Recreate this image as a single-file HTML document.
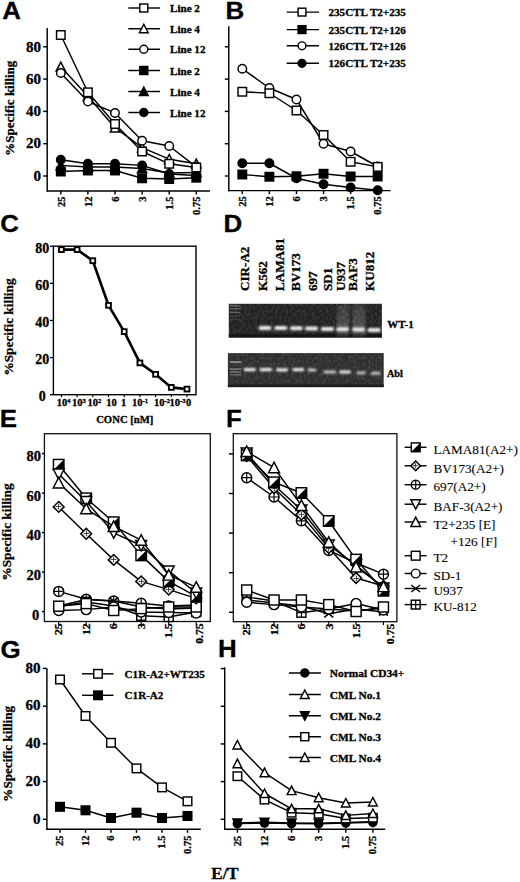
<!DOCTYPE html>
<html><head><meta charset="utf-8"><title>Figure</title>
<style>
html,body{margin:0;padding:0;background:#fff;}
body{width:520px;height:882px;overflow:hidden;}
svg{display:block;}
text{stroke:#000;stroke-width:0.3px;}
text[font-weight="normal"]{stroke-width:0.1px;}
</style></head>
<body>
<svg width="520" height="882" viewBox="0 0 520 882">
<rect width="520" height="882" fill="#fff"/>
<text x="0" y="0" font-family="'Liberation Sans', sans-serif" font-size="24.2" font-weight="bold" transform="translate(2.3,19.3) scale(1.07,1)">A</text>
<line x1="47.2" y1="28" x2="47.2" y2="191.6" stroke="#000" stroke-width="1.45"/>
<line x1="46.6" y1="191" x2="210" y2="191" stroke="#000" stroke-width="1.45"/>
<line x1="43.2" y1="176" x2="47.2" y2="176" stroke="#000" stroke-width="1.45"/>
<line x1="43.2" y1="143.7" x2="47.2" y2="143.7" stroke="#000" stroke-width="1.45"/>
<line x1="43.2" y1="111.4" x2="47.2" y2="111.4" stroke="#000" stroke-width="1.45"/>
<line x1="43.2" y1="79.1" x2="47.2" y2="79.1" stroke="#000" stroke-width="1.45"/>
<line x1="43.2" y1="46.8" x2="47.2" y2="46.8" stroke="#000" stroke-width="1.45"/>
<text x="41" y="180.7" font-family="'Liberation Serif', serif" font-size="15" font-weight="bold" text-anchor="end">0</text>
<text x="41" y="148.4" font-family="'Liberation Serif', serif" font-size="15" font-weight="bold" text-anchor="end">20</text>
<text x="41" y="116.1" font-family="'Liberation Serif', serif" font-size="15" font-weight="bold" text-anchor="end">40</text>
<text x="41" y="83.8" font-family="'Liberation Serif', serif" font-size="15" font-weight="bold" text-anchor="end">60</text>
<text x="41" y="51.5" font-family="'Liberation Serif', serif" font-size="15" font-weight="bold" text-anchor="end">80</text>
<line x1="60.8" y1="191" x2="60.8" y2="194.5" stroke="#000" stroke-width="1.45"/>
<line x1="87.9" y1="191" x2="87.9" y2="194.5" stroke="#000" stroke-width="1.45"/>
<line x1="115" y1="191" x2="115" y2="194.5" stroke="#000" stroke-width="1.45"/>
<line x1="142.1" y1="191" x2="142.1" y2="194.5" stroke="#000" stroke-width="1.45"/>
<line x1="169.2" y1="191" x2="169.2" y2="194.5" stroke="#000" stroke-width="1.45"/>
<line x1="196.3" y1="191" x2="196.3" y2="194.5" stroke="#000" stroke-width="1.45"/>
<text x="0" y="0" font-family="'Liberation Serif', serif" font-size="10.5" font-weight="bold" text-anchor="end" transform="translate(64.58,196.5) rotate(-90) scale(1.0,1)">25</text>
<text x="0" y="0" font-family="'Liberation Serif', serif" font-size="10.5" font-weight="bold" text-anchor="end" transform="translate(91.68,196.5) rotate(-90) scale(1.0,1)">12</text>
<text x="0" y="0" font-family="'Liberation Serif', serif" font-size="10.5" font-weight="bold" text-anchor="end" transform="translate(118.78,196.5) rotate(-90) scale(1.0,1)">6</text>
<text x="0" y="0" font-family="'Liberation Serif', serif" font-size="10.5" font-weight="bold" text-anchor="end" transform="translate(145.88,196.5) rotate(-90) scale(1.0,1)">3</text>
<text x="0" y="0" font-family="'Liberation Serif', serif" font-size="10.5" font-weight="bold" text-anchor="end" transform="translate(172.98,196.5) rotate(-90) scale(1.0,1)">1.5</text>
<text x="0" y="0" font-family="'Liberation Serif', serif" font-size="10.5" font-weight="bold" text-anchor="end" transform="translate(200.08,196.5) rotate(-90) scale(1.0,1)">0.75</text>
<text x="0" y="0" font-family="'Liberation Serif', serif" font-size="13" font-weight="bold" text-anchor="middle" transform="translate(13.8,108.2) rotate(-90)">%Specific killing</text>
<polyline points="60.8,171.5 87.9,170.5 115,170.5 142.1,178.3 169.2,179 196.3,177.7" fill="none" stroke="#000" stroke-width="1.45" stroke-linejoin="round"/>
<rect x="56.55" y="167.25" width="8.5" height="8.5" fill="#000" stroke="#000" stroke-width="1.45"/>
<rect x="83.65" y="166.25" width="8.5" height="8.5" fill="#000" stroke="#000" stroke-width="1.45"/>
<rect x="110.75" y="166.25" width="8.5" height="8.5" fill="#000" stroke="#000" stroke-width="1.45"/>
<rect x="137.85" y="174.05" width="8.5" height="8.5" fill="#000" stroke="#000" stroke-width="1.45"/>
<rect x="164.95" y="174.75" width="8.5" height="8.5" fill="#000" stroke="#000" stroke-width="1.45"/>
<rect x="192.05" y="173.45" width="8.5" height="8.5" fill="#000" stroke="#000" stroke-width="1.45"/>
<polyline points="60.8,165.4 87.9,167 115,167 142.1,168.5 169.2,173 196.3,172.5" fill="none" stroke="#000" stroke-width="1.45" stroke-linejoin="round"/>
<path d="M60.8 160.65L65.47 169.65L56.12 169.65Z" fill="#000" stroke="#000" stroke-width="1.45" stroke-linejoin="miter"/>
<path d="M87.9 162.25L92.58 171.25L83.23 171.25Z" fill="#000" stroke="#000" stroke-width="1.45" stroke-linejoin="miter"/>
<path d="M115 162.25L119.67 171.25L110.33 171.25Z" fill="#000" stroke="#000" stroke-width="1.45" stroke-linejoin="miter"/>
<path d="M142.1 163.75L146.78 172.75L137.43 172.75Z" fill="#000" stroke="#000" stroke-width="1.45" stroke-linejoin="miter"/>
<path d="M169.2 168.25L173.88 177.25L164.52 177.25Z" fill="#000" stroke="#000" stroke-width="1.45" stroke-linejoin="miter"/>
<path d="M196.3 167.75L200.98 176.75L191.62 176.75Z" fill="#000" stroke="#000" stroke-width="1.45" stroke-linejoin="miter"/>
<polyline points="60.8,159.8 87.9,163.8 115,163.8 142.1,165.4 169.2,174 196.3,175.5" fill="none" stroke="#000" stroke-width="1.45" stroke-linejoin="round"/>
<circle cx="60.8" cy="159.8" r="4.25" fill="#000" stroke="#000" stroke-width="1.45"/>
<circle cx="87.9" cy="163.8" r="4.25" fill="#000" stroke="#000" stroke-width="1.45"/>
<circle cx="115" cy="163.8" r="4.25" fill="#000" stroke="#000" stroke-width="1.45"/>
<circle cx="142.1" cy="165.4" r="4.25" fill="#000" stroke="#000" stroke-width="1.45"/>
<circle cx="169.2" cy="174" r="4.25" fill="#000" stroke="#000" stroke-width="1.45"/>
<circle cx="196.3" cy="175.5" r="4.25" fill="#000" stroke="#000" stroke-width="1.45"/>
<polyline points="60.8,66.8 87.9,96.3 115,127.7 142.1,147.7 169.2,159.2 196.3,163.8" fill="none" stroke="#000" stroke-width="1.45" stroke-linejoin="round"/>
<path d="M60.8 62.05L65.47 71.05L56.12 71.05Z" fill="#fff" stroke="#000" stroke-width="1.45" stroke-linejoin="miter"/>
<path d="M87.9 91.55L92.58 100.55L83.23 100.55Z" fill="#fff" stroke="#000" stroke-width="1.45" stroke-linejoin="miter"/>
<path d="M115 122.95L119.67 131.95L110.33 131.95Z" fill="#fff" stroke="#000" stroke-width="1.45" stroke-linejoin="miter"/>
<path d="M142.1 142.95L146.78 151.95L137.43 151.95Z" fill="#fff" stroke="#000" stroke-width="1.45" stroke-linejoin="miter"/>
<path d="M169.2 154.45L173.88 163.45L164.52 163.45Z" fill="#fff" stroke="#000" stroke-width="1.45" stroke-linejoin="miter"/>
<path d="M196.3 159.05L200.98 168.05L191.62 168.05Z" fill="#fff" stroke="#000" stroke-width="1.45" stroke-linejoin="miter"/>
<polyline points="60.8,72.9 87.9,101.5 115,112.9 142.1,140.8 169.2,146 196.3,166.8" fill="none" stroke="#000" stroke-width="1.45" stroke-linejoin="round"/>
<circle cx="60.8" cy="72.9" r="4.25" fill="#fff" stroke="#000" stroke-width="1.45"/>
<circle cx="87.9" cy="101.5" r="4.25" fill="#fff" stroke="#000" stroke-width="1.45"/>
<circle cx="115" cy="112.9" r="4.25" fill="#fff" stroke="#000" stroke-width="1.45"/>
<circle cx="142.1" cy="140.8" r="4.25" fill="#fff" stroke="#000" stroke-width="1.45"/>
<circle cx="169.2" cy="146" r="4.25" fill="#fff" stroke="#000" stroke-width="1.45"/>
<circle cx="196.3" cy="166.8" r="4.25" fill="#fff" stroke="#000" stroke-width="1.45"/>
<polyline points="60.8,35 87.9,92.3 115,124 142.1,151.5 169.2,163.8 196.3,167.5" fill="none" stroke="#000" stroke-width="1.45" stroke-linejoin="round"/>
<rect x="56.55" y="30.75" width="8.5" height="8.5" fill="#fff" stroke="#000" stroke-width="1.45"/>
<rect x="83.65" y="88.05" width="8.5" height="8.5" fill="#fff" stroke="#000" stroke-width="1.45"/>
<rect x="110.75" y="119.75" width="8.5" height="8.5" fill="#fff" stroke="#000" stroke-width="1.45"/>
<rect x="137.85" y="147.25" width="8.5" height="8.5" fill="#fff" stroke="#000" stroke-width="1.45"/>
<rect x="164.95" y="159.55" width="8.5" height="8.5" fill="#fff" stroke="#000" stroke-width="1.45"/>
<rect x="192.05" y="163.25" width="8.5" height="8.5" fill="#fff" stroke="#000" stroke-width="1.45"/>
<line x1="128.3" y1="8" x2="160" y2="8" stroke="#000" stroke-width="1.45"/>
<rect x="139.8" y="4" width="8" height="8" fill="#fff" stroke="#000" stroke-width="1.45"/>
<text x="170" y="12.07" font-family="'Liberation Serif', serif" font-size="11.1" font-weight="bold" text-anchor="start">Line 2</text>
<line x1="128.3" y1="28.75" x2="160" y2="28.75" stroke="#000" stroke-width="1.45"/>
<path d="M143.8 24.25L148.2 32.75L139.4 32.75Z" fill="#fff" stroke="#000" stroke-width="1.45" stroke-linejoin="miter"/>
<text x="170" y="32.82" font-family="'Liberation Serif', serif" font-size="11.1" font-weight="bold" text-anchor="start">Line 4</text>
<line x1="128.3" y1="49.25" x2="160" y2="49.25" stroke="#000" stroke-width="1.45"/>
<circle cx="143.8" cy="49.25" r="4" fill="#fff" stroke="#000" stroke-width="1.45"/>
<text x="170" y="53.32" font-family="'Liberation Serif', serif" font-size="11.1" font-weight="bold" text-anchor="start">Line 12</text>
<line x1="128.3" y1="70.5" x2="160" y2="70.5" stroke="#000" stroke-width="1.45"/>
<rect x="139.8" y="66.5" width="8" height="8" fill="#000" stroke="#000" stroke-width="1.45"/>
<text x="170" y="74.57" font-family="'Liberation Serif', serif" font-size="11.1" font-weight="bold" text-anchor="start">Line 2</text>
<line x1="128.3" y1="91.5" x2="160" y2="91.5" stroke="#000" stroke-width="1.45"/>
<path d="M143.8 87L148.2 95.5L139.4 95.5Z" fill="#000" stroke="#000" stroke-width="1.45" stroke-linejoin="miter"/>
<text x="170" y="95.57" font-family="'Liberation Serif', serif" font-size="11.1" font-weight="bold" text-anchor="start">Line 4</text>
<line x1="128.3" y1="112.5" x2="160" y2="112.5" stroke="#000" stroke-width="1.45"/>
<circle cx="143.8" cy="112.5" r="4" fill="#000" stroke="#000" stroke-width="1.45"/>
<text x="170" y="116.57" font-family="'Liberation Serif', serif" font-size="11.1" font-weight="bold" text-anchor="start">Line 12</text>
<text x="0" y="0" font-family="'Liberation Sans', sans-serif" font-size="24.2" font-weight="bold" transform="translate(225.5,18.5) scale(1.07,1)">B</text>
<line x1="228.8" y1="26.3" x2="228.8" y2="191.2" stroke="#000" stroke-width="1.45"/>
<line x1="228.2" y1="190.6" x2="390.6" y2="190.6" stroke="#000" stroke-width="1.45"/>
<line x1="224.8" y1="176" x2="228.8" y2="176" stroke="#000" stroke-width="1.45"/>
<line x1="224.8" y1="143.7" x2="228.8" y2="143.7" stroke="#000" stroke-width="1.45"/>
<line x1="224.8" y1="111.4" x2="228.8" y2="111.4" stroke="#000" stroke-width="1.45"/>
<line x1="224.8" y1="79.1" x2="228.8" y2="79.1" stroke="#000" stroke-width="1.45"/>
<line x1="224.8" y1="46.8" x2="228.8" y2="46.8" stroke="#000" stroke-width="1.45"/>
<line x1="242.3" y1="190.6" x2="242.3" y2="194.1" stroke="#000" stroke-width="1.45"/>
<line x1="269.38" y1="190.6" x2="269.38" y2="194.1" stroke="#000" stroke-width="1.45"/>
<line x1="296.46" y1="190.6" x2="296.46" y2="194.1" stroke="#000" stroke-width="1.45"/>
<line x1="323.54" y1="190.6" x2="323.54" y2="194.1" stroke="#000" stroke-width="1.45"/>
<line x1="350.62" y1="190.6" x2="350.62" y2="194.1" stroke="#000" stroke-width="1.45"/>
<line x1="377.7" y1="190.6" x2="377.7" y2="194.1" stroke="#000" stroke-width="1.45"/>
<text x="0" y="0" font-family="'Liberation Serif', serif" font-size="10.5" font-weight="bold" text-anchor="end" transform="translate(246.08,196.3) rotate(-90) scale(1.0,1)">25</text>
<text x="0" y="0" font-family="'Liberation Serif', serif" font-size="10.5" font-weight="bold" text-anchor="end" transform="translate(273.16,196.3) rotate(-90) scale(1.0,1)">12</text>
<text x="0" y="0" font-family="'Liberation Serif', serif" font-size="10.5" font-weight="bold" text-anchor="end" transform="translate(300.24,196.3) rotate(-90) scale(1.0,1)">6</text>
<text x="0" y="0" font-family="'Liberation Serif', serif" font-size="10.5" font-weight="bold" text-anchor="end" transform="translate(327.32,196.3) rotate(-90) scale(1.0,1)">3</text>
<text x="0" y="0" font-family="'Liberation Serif', serif" font-size="10.5" font-weight="bold" text-anchor="end" transform="translate(354.4,196.3) rotate(-90) scale(1.0,1)">1.5</text>
<text x="0" y="0" font-family="'Liberation Serif', serif" font-size="10.5" font-weight="bold" text-anchor="end" transform="translate(381.48,196.3) rotate(-90) scale(1.0,1)">0.75</text>
<polyline points="242.3,174.5 269.38,176.75 296.46,176.25 323.54,173.75 350.62,176.5 377.7,176.5" fill="none" stroke="#000" stroke-width="1.45" stroke-linejoin="round"/>
<rect x="238.05" y="170.25" width="8.5" height="8.5" fill="#000" stroke="#000" stroke-width="1.45"/>
<rect x="265.13" y="172.5" width="8.5" height="8.5" fill="#000" stroke="#000" stroke-width="1.45"/>
<rect x="292.21" y="172" width="8.5" height="8.5" fill="#000" stroke="#000" stroke-width="1.45"/>
<rect x="319.29" y="169.5" width="8.5" height="8.5" fill="#000" stroke="#000" stroke-width="1.45"/>
<rect x="346.37" y="172.25" width="8.5" height="8.5" fill="#000" stroke="#000" stroke-width="1.45"/>
<rect x="373.45" y="172.25" width="8.5" height="8.5" fill="#000" stroke="#000" stroke-width="1.45"/>
<polyline points="242.3,163.25 269.38,163.25 296.46,178.25 323.54,184.3 350.62,187.5 377.7,190.3" fill="none" stroke="#000" stroke-width="1.45" stroke-linejoin="round"/>
<circle cx="242.3" cy="163.25" r="4.25" fill="#000" stroke="#000" stroke-width="1.45"/>
<circle cx="269.38" cy="163.25" r="4.25" fill="#000" stroke="#000" stroke-width="1.45"/>
<circle cx="296.46" cy="178.25" r="4.25" fill="#000" stroke="#000" stroke-width="1.45"/>
<circle cx="323.54" cy="184.3" r="4.25" fill="#000" stroke="#000" stroke-width="1.45"/>
<circle cx="350.62" cy="187.5" r="4.25" fill="#000" stroke="#000" stroke-width="1.45"/>
<circle cx="377.7" cy="190.3" r="4.25" fill="#000" stroke="#000" stroke-width="1.45"/>
<polyline points="242.3,68.75 269.38,88 296.46,99.5 323.54,143.75 350.62,151.5 377.7,166.5" fill="none" stroke="#000" stroke-width="1.45" stroke-linejoin="round"/>
<circle cx="242.3" cy="68.75" r="4.25" fill="#fff" stroke="#000" stroke-width="1.45"/>
<circle cx="269.38" cy="88" r="4.25" fill="#fff" stroke="#000" stroke-width="1.45"/>
<circle cx="296.46" cy="99.5" r="4.25" fill="#fff" stroke="#000" stroke-width="1.45"/>
<circle cx="323.54" cy="143.75" r="4.25" fill="#fff" stroke="#000" stroke-width="1.45"/>
<circle cx="350.62" cy="151.5" r="4.25" fill="#fff" stroke="#000" stroke-width="1.45"/>
<circle cx="377.7" cy="166.5" r="4.25" fill="#fff" stroke="#000" stroke-width="1.45"/>
<polyline points="242.3,91.75 269.38,93.25 296.46,110.5 323.54,135 350.62,161.8 377.7,166.9" fill="none" stroke="#000" stroke-width="1.45" stroke-linejoin="round"/>
<rect x="238.05" y="87.5" width="8.5" height="8.5" fill="#fff" stroke="#000" stroke-width="1.45"/>
<rect x="265.13" y="89" width="8.5" height="8.5" fill="#fff" stroke="#000" stroke-width="1.45"/>
<rect x="292.21" y="106.25" width="8.5" height="8.5" fill="#fff" stroke="#000" stroke-width="1.45"/>
<rect x="319.29" y="130.75" width="8.5" height="8.5" fill="#fff" stroke="#000" stroke-width="1.45"/>
<rect x="346.37" y="157.55" width="8.5" height="8.5" fill="#fff" stroke="#000" stroke-width="1.45"/>
<rect x="373.45" y="162.65" width="8.5" height="8.5" fill="#fff" stroke="#000" stroke-width="1.45"/>
<line x1="286.7" y1="12.1" x2="319" y2="12.1" stroke="#000" stroke-width="1.45"/>
<rect x="298.1" y="8.2" width="7.8" height="7.8" fill="#fff" stroke="#000" stroke-width="1.45"/>
<text x="328.5" y="16.17" font-family="'Liberation Serif', serif" font-size="11.1" font-weight="bold" text-anchor="start">235CTL T2+235</text>
<line x1="286.7" y1="29.6" x2="319" y2="29.6" stroke="#000" stroke-width="1.45"/>
<rect x="298.1" y="25.7" width="7.8" height="7.8" fill="#000" stroke="#000" stroke-width="1.45"/>
<text x="328.5" y="33.67" font-family="'Liberation Serif', serif" font-size="11.1" font-weight="bold" text-anchor="start">235CTL T2+126</text>
<line x1="286.7" y1="45.8" x2="319" y2="45.8" stroke="#000" stroke-width="1.45"/>
<circle cx="302" cy="45.8" r="3.9" fill="#fff" stroke="#000" stroke-width="1.45"/>
<text x="328.5" y="49.87" font-family="'Liberation Serif', serif" font-size="11.1" font-weight="bold" text-anchor="start">126CTL T2+126</text>
<line x1="286.7" y1="63.3" x2="319" y2="63.3" stroke="#000" stroke-width="1.45"/>
<circle cx="302" cy="63.3" r="3.9" fill="#000" stroke="#000" stroke-width="1.45"/>
<text x="328.5" y="67.37" font-family="'Liberation Serif', serif" font-size="11.1" font-weight="bold" text-anchor="start">126CTL T2+235</text>
<text x="0" y="0" font-family="'Liberation Sans', sans-serif" font-size="24.2" font-weight="bold" transform="translate(0.3,231.5) scale(1.07,1)">C</text>
<rect x="53.4" y="246.2" width="142.6" height="148.5" fill="none" stroke="#000" stroke-width="1.4"/>
<line x1="50" y1="394.7" x2="53.4" y2="394.7" stroke="#000" stroke-width="1.3"/>
<line x1="50" y1="357.58" x2="53.4" y2="357.58" stroke="#000" stroke-width="1.3"/>
<line x1="50" y1="320.46" x2="53.4" y2="320.46" stroke="#000" stroke-width="1.3"/>
<line x1="50" y1="283.34" x2="53.4" y2="283.34" stroke="#000" stroke-width="1.3"/>
<line x1="50" y1="246.22" x2="53.4" y2="246.22" stroke="#000" stroke-width="1.3"/>
<text x="49.3" y="364.14" font-family="'Liberation Serif', serif" font-size="14" font-weight="bold" text-anchor="end">20</text>
<text x="49.3" y="327.02" font-family="'Liberation Serif', serif" font-size="14" font-weight="bold" text-anchor="end">40</text>
<text x="49.3" y="289.9" font-family="'Liberation Serif', serif" font-size="14" font-weight="bold" text-anchor="end">60</text>
<text x="49.3" y="252.78" font-family="'Liberation Serif', serif" font-size="14" font-weight="bold" text-anchor="end">80</text>
<text x="42.2" y="401.26" font-family="'Liberation Serif', serif" font-size="14" font-weight="bold" text-anchor="middle">0</text>
<text x="0" y="0" font-family="'Liberation Serif', serif" font-size="13.3" font-weight="bold" text-anchor="middle" transform="translate(13.49,327) rotate(-90)">%Specific killing</text>
<line x1="61.4" y1="394.7" x2="61.4" y2="397.2" stroke="#000" stroke-width="1.1"/>
<line x1="77.1" y1="394.7" x2="77.1" y2="397.2" stroke="#000" stroke-width="1.1"/>
<line x1="92.8" y1="394.7" x2="92.8" y2="397.2" stroke="#000" stroke-width="1.1"/>
<line x1="108.5" y1="394.7" x2="108.5" y2="397.2" stroke="#000" stroke-width="1.1"/>
<line x1="124.2" y1="394.7" x2="124.2" y2="397.2" stroke="#000" stroke-width="1.1"/>
<line x1="139.9" y1="394.7" x2="139.9" y2="397.2" stroke="#000" stroke-width="1.1"/>
<line x1="155.6" y1="394.7" x2="155.6" y2="397.2" stroke="#000" stroke-width="1.1"/>
<line x1="171.3" y1="394.7" x2="171.3" y2="397.2" stroke="#000" stroke-width="1.1"/>
<line x1="187" y1="394.7" x2="187" y2="397.2" stroke="#000" stroke-width="1.1"/>
<polyline points="61.4,249.6 77.1,249.6 92.8,260.7 108.5,305.3 124.2,331.6 139.9,362.9 155.6,374.3 171.3,387.4 187,389.1" fill="none" stroke="#000" stroke-width="2.6" stroke-linejoin="round"/>
<rect x="59" y="247.2" width="4.8" height="4.8" fill="#fff" stroke="#000" stroke-width="1.9"/>
<rect x="74.7" y="247.2" width="4.8" height="4.8" fill="#fff" stroke="#000" stroke-width="1.9"/>
<rect x="90.4" y="258.3" width="4.8" height="4.8" fill="#fff" stroke="#000" stroke-width="1.9"/>
<rect x="106.1" y="302.9" width="4.8" height="4.8" fill="#fff" stroke="#000" stroke-width="1.9"/>
<rect x="121.8" y="329.2" width="4.8" height="4.8" fill="#fff" stroke="#000" stroke-width="1.9"/>
<rect x="137.5" y="360.5" width="4.8" height="4.8" fill="#fff" stroke="#000" stroke-width="1.9"/>
<rect x="153.2" y="371.9" width="4.8" height="4.8" fill="#fff" stroke="#000" stroke-width="1.9"/>
<rect x="168.9" y="385" width="4.8" height="4.8" fill="#fff" stroke="#000" stroke-width="1.9"/>
<rect x="184.6" y="386.7" width="4.8" height="4.8" fill="#fff" stroke="#000" stroke-width="1.9"/>
<text x="63.5" y="406.3" font-family="'Liberation Serif', serif" font-size="10.5" font-weight="bold" text-anchor="middle">10<tspan font-size="6.5" dy="-3.6">4</tspan></text>
<text x="78.9" y="406.3" font-family="'Liberation Serif', serif" font-size="10.5" font-weight="bold" text-anchor="middle">10<tspan font-size="6.5" dy="-3.6">3</tspan></text>
<text x="94.3" y="406.3" font-family="'Liberation Serif', serif" font-size="10.5" font-weight="bold" text-anchor="middle">10<tspan font-size="6.5" dy="-3.6">2</tspan></text>
<text x="111.5" y="406.3" font-family="'Liberation Serif', serif" font-size="10.5" font-weight="bold" text-anchor="middle">10</text>
<text x="123.5" y="406.3" font-family="'Liberation Serif', serif" font-size="10.5" font-weight="bold" text-anchor="middle">1</text>
<text x="140" y="406.3" font-family="'Liberation Serif', serif" font-size="10.5" font-weight="bold" text-anchor="middle">10<tspan font-size="6.5" dy="-3.6">-1</tspan></text>
<text x="162" y="406.3" font-family="'Liberation Serif', serif" font-size="10.5" font-weight="bold" text-anchor="middle">10<tspan font-size="6.5" dy="-3.6">-2</tspan></text>
<text x="177.5" y="406.3" font-family="'Liberation Serif', serif" font-size="10.5" font-weight="bold" text-anchor="middle">10<tspan font-size="6.5" dy="-3.6">-3</tspan></text>
<text x="188.5" y="406.3" font-family="'Liberation Serif', serif" font-size="10.5" font-weight="bold" text-anchor="middle">0</text>
<text x="124.8" y="423" font-family="'Liberation Serif', serif" font-size="10.7" font-weight="bold" text-anchor="middle">CONC [nM]</text>
<text x="0" y="0" font-family="'Liberation Sans', sans-serif" font-size="24.2" font-weight="bold" transform="translate(223.5,231.8) scale(1.07,1)">D</text>
<text x="0" y="0" font-family="'Liberation Serif', serif" font-size="12.5" font-weight="bold" transform="translate(249.4,291.0) rotate(-90) scale(1.05,1)">CIR-A2</text>
<text x="0" y="0" font-family="'Liberation Serif', serif" font-size="12.5" font-weight="bold" transform="translate(267.4,291.0) rotate(-90) scale(1.05,1)">K562</text>
<text x="0" y="0" font-family="'Liberation Serif', serif" font-size="12.5" font-weight="bold" transform="translate(283.5,291.0) rotate(-90) scale(1.05,1)">LAMA81</text>
<text x="0" y="0" font-family="'Liberation Serif', serif" font-size="12.5" font-weight="bold" transform="translate(299.7,291.0) rotate(-90) scale(1.05,1)">BV173</text>
<text x="0" y="0" font-family="'Liberation Serif', serif" font-size="12.5" font-weight="bold" transform="translate(316.6,291.0) rotate(-90) scale(1.05,1)">697</text>
<text x="0" y="0" font-family="'Liberation Serif', serif" font-size="12.5" font-weight="bold" transform="translate(331.8,291.0) rotate(-90) scale(1.05,1)">SD1</text>
<text x="0" y="0" font-family="'Liberation Serif', serif" font-size="12.5" font-weight="bold" transform="translate(344.7,291.0) rotate(-90) scale(1.05,1)">U937</text>
<text x="0" y="0" font-family="'Liberation Serif', serif" font-size="12.5" font-weight="bold" transform="translate(356.8,291.0) rotate(-90) scale(1.05,1)">BAF3</text>
<text x="0" y="0" font-family="'Liberation Serif', serif" font-size="12.5" font-weight="bold" transform="translate(374.1,291.0) rotate(-90) scale(1.05,1)">KU812</text>
<defs><filter id="noise" x="0" y="0" width="100%" height="100%"><feTurbulence type="fractalNoise" baseFrequency="0.45 0.3" numOctaves="2" seed="7" result="t"/><feColorMatrix type="matrix" values="0 0 0 0 0.45  0 0 0 0 0.45  0 0 0 0 0.45  0 0 0 0.7 -0.25"/></filter><filter id="bl" x="-30%" y="-80%" width="160%" height="260%"><feGaussianBlur stdDeviation="0.8"/></filter><filter id="bl2" x="-10%" y="-10%" width="120%" height="120%"><feGaussianBlur stdDeviation="1.2"/></filter><linearGradient id="sm" x1="0" y1="0" x2="0" y2="1"><stop offset="0" stop-color="#fff" stop-opacity="0.10"/><stop offset="0.7" stop-color="#fff" stop-opacity="0.2"/><stop offset="1" stop-color="#fff" stop-opacity="0.14"/></linearGradient></defs>
<rect x="228.8" y="303.8" width="153.1" height="33.7" fill="#202020"/>
<rect x="228.8" y="303.8" width="153.1" height="33.7" fill="#000" filter="url(#noise)" opacity="0.6"/>
<rect x="228.8" y="334.2" width="153.1" height="3.3" fill="#151515"/>
<rect x="337" y="304.5" width="12" height="32" fill="url(#sm)" filter="url(#bl2)"/>
<rect x="352.5" y="304.5" width="13" height="32" fill="url(#sm)" filter="url(#bl2)"/>
<rect x="229.8" y="305.3" width="10.5" height="1.2" fill="#b0b0b0" opacity="0.55"/>
<rect x="229.8" y="308.1" width="10.5" height="1.2" fill="#b0b0b0" opacity="0.5"/>
<rect x="229.8" y="311.8" width="10.5" height="1.2" fill="#b0b0b0" opacity="0.45"/>
<rect x="229.8" y="315.5" width="10.5" height="1.2" fill="#b0b0b0" opacity="0.2"/>
<rect x="229.8" y="319" width="10.5" height="1.2" fill="#b0b0b0" opacity="0.15"/>
<rect x="258.8" y="326" width="12.5" height="4.0" rx="1.6" fill="#ececec" filter="url(#bl)"/>
<rect x="274.4" y="326" width="12.7" height="4.0" rx="1.6" fill="#ececec" filter="url(#bl)"/>
<rect x="290.1" y="326.2" width="12.5" height="4.0" rx="1.6" fill="#ececec" filter="url(#bl)"/>
<rect x="305" y="326.5" width="13" height="4.0" rx="1.6" fill="#ececec" filter="url(#bl)"/>
<rect x="321" y="327" width="12.8" height="4.0" rx="1.6" fill="#ececec" filter="url(#bl)"/>
<rect x="336.3" y="327.2" width="12.5" height="4.0" rx="1.6" fill="#ececec" filter="url(#bl)"/>
<rect x="352.3" y="327.6" width="12.5" height="4.0" rx="1.6" fill="#ececec" filter="url(#bl)"/>
<rect x="367.7" y="328" width="12.9" height="4.0" rx="1.6" fill="#ececec" filter="url(#bl)"/>
<rect x="227.9" y="353.1" width="155.8" height="34" fill="#2c2c2c"/>
<rect x="227.9" y="353.1" width="155.8" height="34" fill="#000" filter="url(#noise)" opacity="0.6"/>
<rect x="227.9" y="384.5" width="155.8" height="2.6" fill="#1c1c1c"/>
<rect x="229.8" y="361.4" width="11.5" height="1.3" fill="#bdbdbd" opacity="0.9"/>
<rect x="229.8" y="368.4" width="11.5" height="1.3" fill="#bdbdbd" opacity="0.65"/>
<rect x="229.8" y="371.4" width="11.5" height="1.3" fill="#bdbdbd" opacity="0.55"/>
<rect x="229.8" y="374.2" width="11.5" height="1.3" fill="#bdbdbd" opacity="0.45"/>
<rect x="243.7" y="368" width="12.1" height="3.2" rx="1.4" fill="#eaeaea" opacity="1" filter="url(#bl)"/>
<rect x="259.6" y="368" width="12.5" height="3.2" rx="1.4" fill="#eaeaea" opacity="1" filter="url(#bl)"/>
<rect x="276" y="368.2" width="12" height="3.2" rx="1.4" fill="#eaeaea" opacity="1" filter="url(#bl)"/>
<rect x="292.3" y="368" width="11.9" height="3.2" rx="1.4" fill="#eaeaea" opacity="1" filter="url(#bl)"/>
<rect x="307.7" y="368.4" width="8.6" height="3.2" rx="1.4" fill="#eaeaea" opacity="0.85" filter="url(#bl)"/>
<rect x="323.5" y="370.4" width="12.7" height="3.2" rx="1.4" fill="#eaeaea" opacity="0.8" filter="url(#bl)"/>
<rect x="339.3" y="370.4" width="11.7" height="3.2" rx="1.4" fill="#eaeaea" opacity="1" filter="url(#bl)"/>
<rect x="356.3" y="371.2" width="9.5" height="3.2" rx="1.4" fill="#eaeaea" opacity="0.7" filter="url(#bl)"/>
<rect x="371" y="371.7" width="9.6" height="3.2" rx="1.4" fill="#eaeaea" opacity="0.75" filter="url(#bl)"/>
<text x="0" y="0" font-family="'Liberation Serif', serif" font-size="10.3" font-weight="bold" transform="translate(387.3,328.3) scale(1.06,1)">WT-1</text>
<text x="0" y="0" font-family="'Liberation Serif', serif" font-size="10.3" font-weight="bold" transform="translate(386.9,376.7) scale(1.0,1)">Abl</text>
<text x="0" y="0" font-family="'Liberation Sans', sans-serif" font-size="24.2" font-weight="bold" transform="translate(-0.3,427.4) scale(1.07,1)">E</text>
<rect x="44.4" y="433.7" width="165.9" height="187.8" fill="none" stroke="#111" stroke-width="1.3"/>
<line x1="42" y1="611.6" x2="44.4" y2="611.6" stroke="#000" stroke-width="1.45"/>
<line x1="42" y1="572.1" x2="44.4" y2="572.1" stroke="#000" stroke-width="1.45"/>
<line x1="42" y1="532.6" x2="44.4" y2="532.6" stroke="#000" stroke-width="1.45"/>
<line x1="42" y1="493.1" x2="44.4" y2="493.1" stroke="#000" stroke-width="1.45"/>
<line x1="42" y1="453.6" x2="44.4" y2="453.6" stroke="#000" stroke-width="1.45"/>
<text x="41" y="579.83" font-family="'Liberation Serif', serif" font-size="14.5" font-weight="bold" text-anchor="end">20</text>
<text x="41" y="540.33" font-family="'Liberation Serif', serif" font-size="14.5" font-weight="bold" text-anchor="end">40</text>
<text x="41" y="500.83" font-family="'Liberation Serif', serif" font-size="14.5" font-weight="bold" text-anchor="end">60</text>
<text x="41" y="461.33" font-family="'Liberation Serif', serif" font-size="14.5" font-weight="bold" text-anchor="end">80</text>
<text x="39.2" y="619.73" font-family="'Liberation Serif', serif" font-size="14.5" font-weight="bold" text-anchor="end">0</text>
<text x="0" y="0" font-family="'Liberation Serif', serif" font-size="13.3" font-weight="bold" text-anchor="middle" transform="translate(11.19,532) rotate(-90)">%Specific killing</text>
<line x1="58.7" y1="621.5" x2="58.7" y2="625" stroke="#000" stroke-width="1.1"/>
<line x1="86.2" y1="621.5" x2="86.2" y2="625" stroke="#000" stroke-width="1.1"/>
<line x1="113.7" y1="621.5" x2="113.7" y2="625" stroke="#000" stroke-width="1.1"/>
<line x1="141.2" y1="621.5" x2="141.2" y2="625" stroke="#000" stroke-width="1.1"/>
<line x1="168.7" y1="621.5" x2="168.7" y2="625" stroke="#000" stroke-width="1.1"/>
<line x1="196.2" y1="621.5" x2="196.2" y2="625" stroke="#000" stroke-width="1.1"/>
<text x="0" y="0" font-family="'Liberation Serif', serif" font-size="10.5" font-weight="bold" text-anchor="end" transform="translate(62.48,623.3) rotate(-90) scale(1.12,1)">25</text>
<text x="0" y="0" font-family="'Liberation Serif', serif" font-size="10.5" font-weight="bold" text-anchor="end" transform="translate(89.98,623.3) rotate(-90) scale(1.12,1)">12</text>
<text x="0" y="0" font-family="'Liberation Serif', serif" font-size="10.5" font-weight="bold" text-anchor="end" transform="translate(117.48,623.3) rotate(-90) scale(1.12,1)">6</text>
<text x="0" y="0" font-family="'Liberation Serif', serif" font-size="10.5" font-weight="bold" text-anchor="end" transform="translate(144.98,623.3) rotate(-90) scale(1.12,1)">3</text>
<text x="0" y="0" font-family="'Liberation Serif', serif" font-size="10.5" font-weight="bold" text-anchor="end" transform="translate(172.48,623.3) rotate(-90) scale(1.12,1)">1.5</text>
<text x="0" y="0" font-family="'Liberation Serif', serif" font-size="10.5" font-weight="bold" text-anchor="end" transform="translate(202.98,623.3) rotate(-90) scale(1.12,1)">0.75</text>
<polyline points="58.7,591.4 86.2,599.2 113.7,601 141.2,603.3 168.7,606 196.2,605" fill="none" stroke="#000" stroke-width="1.45" stroke-linejoin="round"/>
<circle cx="58.7" cy="591.4" r="5" fill="#fff" stroke="#000" stroke-width="1.45"/><path d="M58.7 586.4V596.4M53.7 591.4H63.7" stroke="#000" stroke-width="1.16"/>
<circle cx="86.2" cy="599.2" r="5" fill="#fff" stroke="#000" stroke-width="1.45"/><path d="M86.2 594.2V604.2M81.2 599.2H91.2" stroke="#000" stroke-width="1.16"/>
<circle cx="113.7" cy="601" r="5" fill="#fff" stroke="#000" stroke-width="1.45"/><path d="M113.7 596V606M108.7 601H118.7" stroke="#000" stroke-width="1.16"/>
<circle cx="141.2" cy="603.3" r="5" fill="#fff" stroke="#000" stroke-width="1.45"/><path d="M141.2 598.3V608.3M136.2 603.3H146.2" stroke="#000" stroke-width="1.16"/>
<circle cx="168.7" cy="606" r="5" fill="#fff" stroke="#000" stroke-width="1.45"/><path d="M168.7 601V611M163.7 606H173.7" stroke="#000" stroke-width="1.16"/>
<circle cx="196.2" cy="605" r="5" fill="#fff" stroke="#000" stroke-width="1.45"/><path d="M196.2 600V610M191.2 605H201.2" stroke="#000" stroke-width="1.16"/>
<polyline points="58.7,606 86.2,599.5 113.7,601 141.2,607 168.7,609 196.2,608" fill="none" stroke="#000" stroke-width="1.45" stroke-linejoin="round"/>
<path d="M54.2 602.4L63.2 609.6M54.2 609.6L63.2 602.4" stroke="#000" stroke-width="1.45"/>
<path d="M81.7 595.9L90.7 603.1M81.7 603.1L90.7 595.9" stroke="#000" stroke-width="1.45"/>
<path d="M109.2 597.4L118.2 604.6M109.2 604.6L118.2 597.4" stroke="#000" stroke-width="1.45"/>
<path d="M136.7 603.4L145.7 610.6M136.7 610.6L145.7 603.4" stroke="#000" stroke-width="1.45"/>
<path d="M164.2 605.4L173.2 612.6M164.2 612.6L173.2 605.4" stroke="#000" stroke-width="1.45"/>
<path d="M191.7 604.4L200.7 611.6M191.7 611.6L200.7 604.4" stroke="#000" stroke-width="1.45"/>
<polyline points="58.7,606.5 86.2,602 113.7,606 141.2,615.7 168.7,617 196.2,612" fill="none" stroke="#000" stroke-width="1.45" stroke-linejoin="round"/>
<rect x="54.2" y="602" width="9" height="9" fill="#fff" stroke="#000" stroke-width="1.45"/><path d="M58.7 602V611M54.2 606.5H63.2" stroke="#000" stroke-width="1.16"/>
<rect x="81.7" y="597.5" width="9" height="9" fill="#fff" stroke="#000" stroke-width="1.45"/><path d="M86.2 597.5V606.5M81.7 602H90.7" stroke="#000" stroke-width="1.16"/>
<rect x="109.2" y="601.5" width="9" height="9" fill="#fff" stroke="#000" stroke-width="1.45"/><path d="M113.7 601.5V610.5M109.2 606H118.2" stroke="#000" stroke-width="1.16"/>
<rect x="136.7" y="611.2" width="9" height="9" fill="#fff" stroke="#000" stroke-width="1.45"/><path d="M141.2 611.2V620.2M136.7 615.7H145.7" stroke="#000" stroke-width="1.16"/>
<rect x="164.2" y="612.5" width="9" height="9" fill="#fff" stroke="#000" stroke-width="1.45"/><path d="M168.7 612.5V621.5M164.2 617H173.2" stroke="#000" stroke-width="1.16"/>
<rect x="191.7" y="607.5" width="9" height="9" fill="#fff" stroke="#000" stroke-width="1.45"/><path d="M196.2 607.5V616.5M191.7 612H200.7" stroke="#000" stroke-width="1.16"/>
<polyline points="58.7,610.5 86.2,609.6 113.7,607 141.2,612 168.7,612.5 196.2,613" fill="none" stroke="#000" stroke-width="1.45" stroke-linejoin="round"/>
<circle cx="58.7" cy="610.5" r="5" fill="#fff" stroke="#000" stroke-width="1.45"/>
<circle cx="86.2" cy="609.6" r="5" fill="#fff" stroke="#000" stroke-width="1.45"/>
<circle cx="113.7" cy="607" r="5" fill="#fff" stroke="#000" stroke-width="1.45"/>
<circle cx="141.2" cy="612" r="5" fill="#fff" stroke="#000" stroke-width="1.45"/>
<circle cx="168.7" cy="612.5" r="5" fill="#fff" stroke="#000" stroke-width="1.45"/>
<circle cx="196.2" cy="613" r="5" fill="#fff" stroke="#000" stroke-width="1.45"/>
<polyline points="58.7,606.2 86.2,603.6 113.7,610.5 141.2,608.6 168.7,607 196.2,607" fill="none" stroke="#000" stroke-width="1.45" stroke-linejoin="round"/>
<rect x="53.7" y="601.2" width="10" height="10" fill="#fff" stroke="#000" stroke-width="1.45"/>
<rect x="81.2" y="598.6" width="10" height="10" fill="#fff" stroke="#000" stroke-width="1.45"/>
<rect x="108.7" y="605.5" width="10" height="10" fill="#fff" stroke="#000" stroke-width="1.45"/>
<rect x="136.2" y="603.6" width="10" height="10" fill="#fff" stroke="#000" stroke-width="1.45"/>
<rect x="163.7" y="602" width="10" height="10" fill="#fff" stroke="#000" stroke-width="1.45"/>
<rect x="191.2" y="602" width="10" height="10" fill="#fff" stroke="#000" stroke-width="1.45"/>
<polyline points="58.7,506.9 86.2,533.8 113.7,559.9 141.2,581.4 168.7,589.6 196.2,598.4" fill="none" stroke="#000" stroke-width="1.45" stroke-linejoin="round"/>
<path d="M58.7 501.5L64.1 506.9L58.7 512.3L53.3 506.9Z" fill="#fff" stroke="#000" stroke-width="1.5"/><circle cx="58.5" cy="506.5" r="2.81" fill="none" stroke="#999" stroke-width="0.4"/><path d="M58.5 503.8V509.2M55.8 506.5H61.2" stroke="#222" stroke-width="0.8"/>
<path d="M86.2 528.4L91.6 533.8L86.2 539.2L80.8 533.8Z" fill="#fff" stroke="#000" stroke-width="1.5"/><circle cx="86.5" cy="533.5" r="2.81" fill="none" stroke="#999" stroke-width="0.4"/><path d="M86.5 530.8V536.2M83.8 533.5H89.2" stroke="#222" stroke-width="0.8"/>
<path d="M113.7 554.5L119.1 559.9L113.7 565.3L108.3 559.9Z" fill="#fff" stroke="#000" stroke-width="1.5"/><circle cx="113.5" cy="559.5" r="2.81" fill="none" stroke="#999" stroke-width="0.4"/><path d="M113.5 556.8V562.2M110.8 559.5H116.2" stroke="#222" stroke-width="0.8"/>
<path d="M141.2 576L146.6 581.4L141.2 586.8L135.8 581.4Z" fill="#fff" stroke="#000" stroke-width="1.5"/><circle cx="141.5" cy="581.5" r="2.81" fill="none" stroke="#999" stroke-width="0.4"/><path d="M141.5 578.8V584.2M138.8 581.5H144.2" stroke="#222" stroke-width="0.8"/>
<path d="M168.7 584.2L174.1 589.6L168.7 595L163.3 589.6Z" fill="#fff" stroke="#000" stroke-width="1.5"/><circle cx="168.5" cy="589.5" r="2.81" fill="none" stroke="#999" stroke-width="0.4"/><path d="M168.5 586.8V592.2M165.8 589.5H171.2" stroke="#222" stroke-width="0.8"/>
<path d="M196.2 593L201.6 598.4L196.2 603.8L190.8 598.4Z" fill="#fff" stroke="#000" stroke-width="1.5"/><circle cx="196.5" cy="598.5" r="2.81" fill="none" stroke="#999" stroke-width="0.4"/><path d="M196.5 595.8V601.2M193.8 598.5H199.2" stroke="#222" stroke-width="0.8"/>
<polyline points="58.7,464.7 86.2,498.3 113.7,522.2 141.2,555.4 168.7,581.4 196.2,596.3" fill="none" stroke="#000" stroke-width="1.45" stroke-linejoin="round"/>
<rect x="53.45" y="459.45" width="10.5" height="10.5" fill="#fff" stroke="#000" stroke-width="1.45"/><path d="M63.95 459.45L63.95 469.95L53.45 469.95Z" fill="#000"/>
<rect x="80.95" y="493.05" width="10.5" height="10.5" fill="#fff" stroke="#000" stroke-width="1.45"/><path d="M91.45 493.05L91.45 503.55L80.95 503.55Z" fill="#000"/>
<rect x="108.45" y="516.95" width="10.5" height="10.5" fill="#fff" stroke="#000" stroke-width="1.45"/><path d="M118.95 516.95L118.95 527.45L108.45 527.45Z" fill="#000"/>
<rect x="135.95" y="550.15" width="10.5" height="10.5" fill="#fff" stroke="#000" stroke-width="1.45"/><path d="M146.45 550.15L146.45 560.65L135.95 560.65Z" fill="#000"/>
<rect x="163.45" y="576.15" width="10.5" height="10.5" fill="#fff" stroke="#000" stroke-width="1.45"/><path d="M173.95 576.15L173.95 586.65L163.45 586.65Z" fill="#000"/>
<rect x="190.95" y="591.05" width="10.5" height="10.5" fill="#fff" stroke="#000" stroke-width="1.45"/><path d="M201.45 591.05L201.45 601.55L190.95 601.55Z" fill="#000"/>
<polyline points="58.7,474 86.2,501.5 113.7,532.8 141.2,545.5 168.7,570.9 196.2,593" fill="none" stroke="#000" stroke-width="1.45" stroke-linejoin="round"/>
<path d="M58.7 479.5L64.2 469L53.2 469Z" fill="#fff" stroke="#000" stroke-width="1.45"/>
<path d="M86.2 507L91.7 496.5L80.7 496.5Z" fill="#fff" stroke="#000" stroke-width="1.45"/>
<path d="M113.7 538.3L119.2 527.8L108.2 527.8Z" fill="#fff" stroke="#000" stroke-width="1.45"/>
<path d="M141.2 551L146.7 540.5L135.7 540.5Z" fill="#fff" stroke="#000" stroke-width="1.45"/>
<path d="M168.7 576.4L174.2 565.9L163.2 565.9Z" fill="#fff" stroke="#000" stroke-width="1.45"/>
<path d="M196.2 598.5L201.7 588L190.7 588Z" fill="#fff" stroke="#000" stroke-width="1.45"/>
<polyline points="58.7,482.9 86.2,508.8 113.7,526.4 141.2,540.2 168.7,575.1 196.2,587.2" fill="none" stroke="#000" stroke-width="1.45" stroke-linejoin="round"/>
<path d="M58.7 477.4L64.2 487.9L53.2 487.9Z" fill="#fff" stroke="#000" stroke-width="1.45" stroke-linejoin="miter"/>
<path d="M86.2 503.3L91.7 513.8L80.7 513.8Z" fill="#fff" stroke="#000" stroke-width="1.45" stroke-linejoin="miter"/>
<path d="M113.7 520.9L119.2 531.4L108.2 531.4Z" fill="#fff" stroke="#000" stroke-width="1.45" stroke-linejoin="miter"/>
<path d="M141.2 534.7L146.7 545.2L135.7 545.2Z" fill="#fff" stroke="#000" stroke-width="1.45" stroke-linejoin="miter"/>
<path d="M168.7 569.6L174.2 580.1L163.2 580.1Z" fill="#fff" stroke="#000" stroke-width="1.45" stroke-linejoin="miter"/>
<path d="M196.2 581.7L201.7 592.2L190.7 592.2Z" fill="#fff" stroke="#000" stroke-width="1.45" stroke-linejoin="miter"/>
<text x="0" y="0" font-family="'Liberation Sans', sans-serif" font-size="24.2" font-weight="bold" transform="translate(226.1,427.4) scale(1.07,1)">F</text>
<rect x="233.3" y="433.7" width="163.6" height="188" fill="none" stroke="#111" stroke-width="1.3"/>
<line x1="229" y1="612.3" x2="233.4" y2="612.3" stroke="#000" stroke-width="1.45"/>
<line x1="229" y1="572.7" x2="233.4" y2="572.7" stroke="#000" stroke-width="1.45"/>
<line x1="229" y1="533.1" x2="233.4" y2="533.1" stroke="#000" stroke-width="1.45"/>
<line x1="229" y1="493.5" x2="233.4" y2="493.5" stroke="#000" stroke-width="1.45"/>
<line x1="229" y1="453.9" x2="233.4" y2="453.9" stroke="#000" stroke-width="1.45"/>
<line x1="246.7" y1="621.5" x2="246.7" y2="625" stroke="#000" stroke-width="1.1"/>
<line x1="274.05" y1="621.5" x2="274.05" y2="625" stroke="#000" stroke-width="1.1"/>
<line x1="301.4" y1="621.5" x2="301.4" y2="625" stroke="#000" stroke-width="1.1"/>
<line x1="328.75" y1="621.5" x2="328.75" y2="625" stroke="#000" stroke-width="1.1"/>
<line x1="356.1" y1="621.5" x2="356.1" y2="625" stroke="#000" stroke-width="1.1"/>
<line x1="383.45" y1="621.5" x2="383.45" y2="625" stroke="#000" stroke-width="1.1"/>
<text x="0" y="0" font-family="'Liberation Serif', serif" font-size="10.5" font-weight="bold" text-anchor="end" transform="translate(250.48,623.6) rotate(-90) scale(1.12,1)">25</text>
<text x="0" y="0" font-family="'Liberation Serif', serif" font-size="10.5" font-weight="bold" text-anchor="end" transform="translate(277.83,623.6) rotate(-90) scale(1.12,1)">12</text>
<text x="0" y="0" font-family="'Liberation Serif', serif" font-size="10.5" font-weight="bold" text-anchor="end" transform="translate(305.18,623.6) rotate(-90) scale(1.12,1)">6</text>
<text x="0" y="0" font-family="'Liberation Serif', serif" font-size="10.5" font-weight="bold" text-anchor="end" transform="translate(332.53,623.6) rotate(-90) scale(1.12,1)">3</text>
<text x="0" y="0" font-family="'Liberation Serif', serif" font-size="10.5" font-weight="bold" text-anchor="end" transform="translate(359.88,623.6) rotate(-90) scale(1.12,1)">1.5</text>
<text x="0" y="0" font-family="'Liberation Serif', serif" font-size="10.5" font-weight="bold" text-anchor="end" transform="translate(393.73,623.6) rotate(-90) scale(1.12,1)">0.75</text>
<polyline points="246.7,597 274.05,601 301.4,612.7 328.75,609 356.1,611 383.45,608" fill="none" stroke="#000" stroke-width="1.45" stroke-linejoin="round"/>
<rect x="242.2" y="592.5" width="9" height="9" fill="#fff" stroke="#000" stroke-width="1.45"/><path d="M246.7 592.5V601.5M242.2 597H251.2" stroke="#000" stroke-width="1.16"/>
<rect x="269.55" y="596.5" width="9" height="9" fill="#fff" stroke="#000" stroke-width="1.45"/><path d="M274.05 596.5V605.5M269.55 601H278.55" stroke="#000" stroke-width="1.16"/>
<rect x="296.9" y="608.2" width="9" height="9" fill="#fff" stroke="#000" stroke-width="1.45"/><path d="M301.4 608.2V617.2M296.9 612.7H305.9" stroke="#000" stroke-width="1.16"/>
<rect x="324.25" y="604.5" width="9" height="9" fill="#fff" stroke="#000" stroke-width="1.45"/><path d="M328.75 604.5V613.5M324.25 609H333.25" stroke="#000" stroke-width="1.16"/>
<rect x="351.6" y="606.5" width="9" height="9" fill="#fff" stroke="#000" stroke-width="1.45"/><path d="M356.1 606.5V615.5M351.6 611H360.6" stroke="#000" stroke-width="1.16"/>
<rect x="378.95" y="603.5" width="9" height="9" fill="#fff" stroke="#000" stroke-width="1.45"/><path d="M383.45 603.5V612.5M378.95 608H387.95" stroke="#000" stroke-width="1.16"/>
<polyline points="246.7,600 274.05,603 301.4,606 328.75,613.8 356.1,609 383.45,612" fill="none" stroke="#000" stroke-width="1.45" stroke-linejoin="round"/>
<path d="M242.2 596.4L251.2 603.6M242.2 603.6L251.2 596.4" stroke="#000" stroke-width="1.45"/>
<path d="M269.55 599.4L278.55 606.6M269.55 606.6L278.55 599.4" stroke="#000" stroke-width="1.45"/>
<path d="M296.9 602.4L305.9 609.6M296.9 609.6L305.9 602.4" stroke="#000" stroke-width="1.45"/>
<path d="M324.25 610.2L333.25 617.4M324.25 617.4L333.25 610.2" stroke="#000" stroke-width="1.45"/>
<path d="M351.6 605.4L360.6 612.6M351.6 612.6L360.6 605.4" stroke="#000" stroke-width="1.45"/>
<path d="M378.95 608.4L387.95 615.6M378.95 615.6L387.95 608.4" stroke="#000" stroke-width="1.45"/>
<polyline points="246.7,602.3 274.05,604.6 301.4,607 328.75,609 356.1,603.5 383.45,610" fill="none" stroke="#000" stroke-width="1.45" stroke-linejoin="round"/>
<circle cx="246.7" cy="602.3" r="5" fill="#fff" stroke="#000" stroke-width="1.45"/>
<circle cx="274.05" cy="604.6" r="5" fill="#fff" stroke="#000" stroke-width="1.45"/>
<circle cx="301.4" cy="607" r="5" fill="#fff" stroke="#000" stroke-width="1.45"/>
<circle cx="328.75" cy="609" r="5" fill="#fff" stroke="#000" stroke-width="1.45"/>
<circle cx="356.1" cy="603.5" r="5" fill="#fff" stroke="#000" stroke-width="1.45"/>
<circle cx="383.45" cy="610" r="5" fill="#fff" stroke="#000" stroke-width="1.45"/>
<polyline points="246.7,590 274.05,600 301.4,600 328.75,604.6 356.1,611.5 383.45,607" fill="none" stroke="#000" stroke-width="1.45" stroke-linejoin="round"/>
<rect x="241.7" y="585" width="10" height="10" fill="#fff" stroke="#000" stroke-width="1.45"/>
<rect x="269.05" y="595" width="10" height="10" fill="#fff" stroke="#000" stroke-width="1.45"/>
<rect x="296.4" y="595" width="10" height="10" fill="#fff" stroke="#000" stroke-width="1.45"/>
<rect x="323.75" y="599.6" width="10" height="10" fill="#fff" stroke="#000" stroke-width="1.45"/>
<rect x="351.1" y="606.5" width="10" height="10" fill="#fff" stroke="#000" stroke-width="1.45"/>
<rect x="378.45" y="602" width="10" height="10" fill="#fff" stroke="#000" stroke-width="1.45"/>
<polyline points="246.7,453 274.05,485 301.4,510 328.75,545 356.1,565 383.45,588" fill="none" stroke="#000" stroke-width="1.45" stroke-linejoin="round"/>
<path d="M246.7 458.5L252.2 448L241.2 448Z" fill="#fff" stroke="#000" stroke-width="1.45"/>
<path d="M274.05 490.5L279.55 480L268.55 480Z" fill="#fff" stroke="#000" stroke-width="1.45"/>
<path d="M301.4 515.5L306.9 505L295.9 505Z" fill="#fff" stroke="#000" stroke-width="1.45"/>
<path d="M328.75 550.5L334.25 540L323.25 540Z" fill="#fff" stroke="#000" stroke-width="1.45"/>
<path d="M356.1 570.5L361.6 560L350.6 560Z" fill="#fff" stroke="#000" stroke-width="1.45"/>
<path d="M383.45 593.5L388.95 583L377.95 583Z" fill="#fff" stroke="#000" stroke-width="1.45"/>
<polyline points="246.7,477.7 274.05,497 301.4,520.8 328.75,550.4 356.1,563 383.45,574.2" fill="none" stroke="#000" stroke-width="1.45" stroke-linejoin="round"/>
<circle cx="246.7" cy="477.7" r="5" fill="#fff" stroke="#000" stroke-width="1.45"/><path d="M246.7 472.7V482.7M241.7 477.7H251.7" stroke="#000" stroke-width="1.16"/>
<circle cx="274.05" cy="497" r="5" fill="#fff" stroke="#000" stroke-width="1.45"/><path d="M274.05 492V502M269.05 497H279.05" stroke="#000" stroke-width="1.16"/>
<circle cx="301.4" cy="520.8" r="5" fill="#fff" stroke="#000" stroke-width="1.45"/><path d="M301.4 515.8V525.8M296.4 520.8H306.4" stroke="#000" stroke-width="1.16"/>
<circle cx="328.75" cy="550.4" r="5" fill="#fff" stroke="#000" stroke-width="1.45"/><path d="M328.75 545.4V555.4M323.75 550.4H333.75" stroke="#000" stroke-width="1.16"/>
<circle cx="356.1" cy="563" r="5" fill="#fff" stroke="#000" stroke-width="1.45"/><path d="M356.1 558V568M351.1 563H361.1" stroke="#000" stroke-width="1.16"/>
<circle cx="383.45" cy="574.2" r="5" fill="#fff" stroke="#000" stroke-width="1.45"/><path d="M383.45 569.2V579.2M378.45 574.2H388.45" stroke="#000" stroke-width="1.16"/>
<polyline points="246.7,456 274.05,488 301.4,514.6 328.75,548 356.1,578 383.45,586" fill="none" stroke="#000" stroke-width="1.45" stroke-linejoin="round"/>
<path d="M246.7 450.6L252.1 456L246.7 461.4L241.3 456Z" fill="#fff" stroke="#000" stroke-width="1.5"/><circle cx="246.5" cy="456.5" r="2.81" fill="none" stroke="#999" stroke-width="0.4"/><path d="M246.5 453.8V459.2M243.8 456.5H249.2" stroke="#222" stroke-width="0.8"/>
<path d="M274.05 482.6L279.45 488L274.05 493.4L268.65 488Z" fill="#fff" stroke="#000" stroke-width="1.5"/><circle cx="274.5" cy="488.5" r="2.81" fill="none" stroke="#999" stroke-width="0.4"/><path d="M274.5 485.8V491.2M271.8 488.5H277.2" stroke="#222" stroke-width="0.8"/>
<path d="M301.4 509.2L306.8 514.6L301.4 520L296 514.6Z" fill="#fff" stroke="#000" stroke-width="1.5"/><circle cx="301.5" cy="514.5" r="2.81" fill="none" stroke="#999" stroke-width="0.4"/><path d="M301.5 511.8V517.2M298.8 514.5H304.2" stroke="#222" stroke-width="0.8"/>
<path d="M328.75 542.6L334.15 548L328.75 553.4L323.35 548Z" fill="#fff" stroke="#000" stroke-width="1.5"/><circle cx="328.5" cy="548.5" r="2.81" fill="none" stroke="#999" stroke-width="0.4"/><path d="M328.5 545.8V551.2M325.8 548.5H331.2" stroke="#222" stroke-width="0.8"/>
<path d="M356.1 572.6L361.5 578L356.1 583.4L350.7 578Z" fill="#fff" stroke="#000" stroke-width="1.5"/><circle cx="356.5" cy="578.5" r="2.81" fill="none" stroke="#999" stroke-width="0.4"/><path d="M356.5 575.8V581.2M353.8 578.5H359.2" stroke="#222" stroke-width="0.8"/>
<path d="M383.45 580.6L388.85 586L383.45 591.4L378.05 586Z" fill="#fff" stroke="#000" stroke-width="1.5"/><circle cx="383.5" cy="586.5" r="2.81" fill="none" stroke="#999" stroke-width="0.4"/><path d="M383.5 583.8V589.2M380.8 586.5H386.2" stroke="#222" stroke-width="0.8"/>
<polyline points="246.7,455.4 274.05,482.3 301.4,493 328.75,521 356.1,559.6 383.45,590.8" fill="none" stroke="#000" stroke-width="1.45" stroke-linejoin="round"/>
<rect x="241.45" y="450.15" width="10.5" height="10.5" fill="#fff" stroke="#000" stroke-width="1.45"/><path d="M251.95 450.15L251.95 460.65L241.45 460.65Z" fill="#000"/>
<rect x="268.8" y="477.05" width="10.5" height="10.5" fill="#fff" stroke="#000" stroke-width="1.45"/><path d="M279.3 477.05L279.3 487.55L268.8 487.55Z" fill="#000"/>
<rect x="296.15" y="487.75" width="10.5" height="10.5" fill="#fff" stroke="#000" stroke-width="1.45"/><path d="M306.65 487.75L306.65 498.25L296.15 498.25Z" fill="#000"/>
<rect x="323.5" y="515.75" width="10.5" height="10.5" fill="#fff" stroke="#000" stroke-width="1.45"/><path d="M334 515.75L334 526.25L323.5 526.25Z" fill="#000"/>
<rect x="350.85" y="554.35" width="10.5" height="10.5" fill="#fff" stroke="#000" stroke-width="1.45"/><path d="M361.35 554.35L361.35 564.85L350.85 564.85Z" fill="#000"/>
<rect x="378.2" y="585.55" width="10.5" height="10.5" fill="#fff" stroke="#000" stroke-width="1.45"/><path d="M388.7 585.55L388.7 596.05L378.2 596.05Z" fill="#000"/>
<polyline points="246.7,451.5 274.05,467.7 301.4,505.4 328.75,542.3 356.1,567 383.45,586.6" fill="none" stroke="#000" stroke-width="1.45" stroke-linejoin="round"/>
<path d="M246.7 446L252.2 456.5L241.2 456.5Z" fill="#fff" stroke="#000" stroke-width="1.45" stroke-linejoin="miter"/>
<path d="M274.05 462.2L279.55 472.7L268.55 472.7Z" fill="#fff" stroke="#000" stroke-width="1.45" stroke-linejoin="miter"/>
<path d="M301.4 499.9L306.9 510.4L295.9 510.4Z" fill="#fff" stroke="#000" stroke-width="1.45" stroke-linejoin="miter"/>
<path d="M328.75 536.8L334.25 547.3L323.25 547.3Z" fill="#fff" stroke="#000" stroke-width="1.45" stroke-linejoin="miter"/>
<path d="M356.1 561.5L361.6 572L350.6 572Z" fill="#fff" stroke="#000" stroke-width="1.45" stroke-linejoin="miter"/>
<path d="M383.45 581.1L388.95 591.6L377.95 591.6Z" fill="#fff" stroke="#000" stroke-width="1.45" stroke-linejoin="miter"/>
<line x1="404.6" y1="447.3" x2="426.5" y2="447.3" stroke="#000" stroke-width="1.45"/>
<rect x="411.3" y="442.9" width="8.8" height="8.8" fill="#fff" stroke="#000" stroke-width="1.45"/><path d="M420.1 442.9L420.1 451.7L411.3 451.7Z" fill="#000"/>
<text x="433.5" y="454.09" font-family="'Liberation Serif', serif" font-size="13.2" font-weight="normal" text-anchor="start">LAMA81(A2+)</text>
<line x1="404.6" y1="465.8" x2="426.5" y2="465.8" stroke="#000" stroke-width="1.45"/>
<path d="M415.7 461L420.5 465.8L415.7 470.6L410.9 465.8Z" fill="#fff" stroke="#000" stroke-width="1.5"/><circle cx="415.5" cy="465.5" r="2.5" fill="none" stroke="#999" stroke-width="0.4"/><path d="M415.5 463.1V467.9M413.1 465.5H417.9" stroke="#222" stroke-width="0.8"/>
<text x="433.5" y="472.59" font-family="'Liberation Serif', serif" font-size="13.2" font-weight="normal" text-anchor="start">BV173(A2+)</text>
<line x1="404.6" y1="484.7" x2="426.5" y2="484.7" stroke="#000" stroke-width="1.45"/>
<circle cx="415.7" cy="484.7" r="4.4" fill="#fff" stroke="#000" stroke-width="1.45"/><path d="M415.7 480.3V489.1M411.3 484.7H420.1" stroke="#000" stroke-width="1.16"/>
<text x="433.5" y="491.49" font-family="'Liberation Serif', serif" font-size="13.2" font-weight="normal" text-anchor="start">697(A2+)</text>
<line x1="404.6" y1="504.2" x2="426.5" y2="504.2" stroke="#000" stroke-width="1.45"/>
<path d="M415.7 509.1L420.54 499.8L410.86 499.8Z" fill="#fff" stroke="#000" stroke-width="1.45"/>
<text x="433.5" y="510.99" font-family="'Liberation Serif', serif" font-size="13.2" font-weight="normal" text-anchor="start">BAF-3(A2+)</text>
<line x1="404.6" y1="522" x2="426.5" y2="522" stroke="#000" stroke-width="1.45"/>
<path d="M415.7 517.1L420.54 526.4L410.86 526.4Z" fill="#fff" stroke="#000" stroke-width="1.45" stroke-linejoin="miter"/>
<text x="433.5" y="528.79" font-family="'Liberation Serif', serif" font-size="13.2" font-weight="normal" text-anchor="start">T2+235 [E]</text>
<line x1="404.6" y1="555.7" x2="426.5" y2="555.7" stroke="#000" stroke-width="1.45"/>
<rect x="411.3" y="551.3" width="8.8" height="8.8" fill="#fff" stroke="#000" stroke-width="1.45"/>
<text x="433.5" y="562.49" font-family="'Liberation Serif', serif" font-size="13.2" font-weight="normal" text-anchor="start">T2</text>
<line x1="404.6" y1="573.5" x2="426.5" y2="573.5" stroke="#000" stroke-width="1.45"/>
<circle cx="415.7" cy="573.5" r="4.4" fill="#fff" stroke="#000" stroke-width="1.45"/>
<text x="433.5" y="580.29" font-family="'Liberation Serif', serif" font-size="13.2" font-weight="normal" text-anchor="start">SD-1</text>
<line x1="404.6" y1="588.5" x2="426.5" y2="588.5" stroke="#000" stroke-width="1.45"/>
<path d="M411.3 584.98L420.1 592.02M411.3 592.02L420.1 584.98" stroke="#000" stroke-width="1.45"/>
<text x="433.5" y="595.29" font-family="'Liberation Serif', serif" font-size="13.2" font-weight="normal" text-anchor="start">U937</text>
<line x1="404.6" y1="604.6" x2="426.5" y2="604.6" stroke="#000" stroke-width="1.45"/>
<rect x="411.3" y="600.2" width="8.8" height="8.8" fill="#fff" stroke="#000" stroke-width="1.45"/><path d="M415.7 600.2V609M411.3 604.6H420.1" stroke="#000" stroke-width="1.16"/>
<text x="433.5" y="611.39" font-family="'Liberation Serif', serif" font-size="13.2" font-weight="normal" text-anchor="start">KU-812</text>
<text x="450.5" y="546.3" font-family="'Liberation Serif', serif" font-size="13.2" font-weight="normal" text-anchor="start">+126 [F]</text>
<text x="0" y="0" font-family="'Liberation Sans', sans-serif" font-size="24.2" font-weight="bold" transform="translate(0.4,657.5) scale(1.07,1)">G</text>
<line x1="46.9" y1="668.2" x2="46.9" y2="829.9" stroke="#000" stroke-width="1.45"/>
<line x1="46.3" y1="829.3" x2="200.8" y2="829.3" stroke="#000" stroke-width="1.45"/>
<line x1="42.9" y1="819.3" x2="46.9" y2="819.3" stroke="#000" stroke-width="1.45"/>
<line x1="42.9" y1="781.58" x2="46.9" y2="781.58" stroke="#000" stroke-width="1.45"/>
<line x1="42.9" y1="743.86" x2="46.9" y2="743.86" stroke="#000" stroke-width="1.45"/>
<line x1="42.9" y1="706.14" x2="46.9" y2="706.14" stroke="#000" stroke-width="1.45"/>
<line x1="42.9" y1="668.42" x2="46.9" y2="668.42" stroke="#000" stroke-width="1.45"/>
<text x="40.6" y="823.5" font-family="'Liberation Serif', serif" font-size="15" font-weight="bold" text-anchor="end">0</text>
<text x="40.6" y="785.78" font-family="'Liberation Serif', serif" font-size="15" font-weight="bold" text-anchor="end">20</text>
<text x="40.6" y="748.06" font-family="'Liberation Serif', serif" font-size="15" font-weight="bold" text-anchor="end">40</text>
<text x="40.6" y="710.34" font-family="'Liberation Serif', serif" font-size="15" font-weight="bold" text-anchor="end">60</text>
<text x="40.6" y="672.62" font-family="'Liberation Serif', serif" font-size="15" font-weight="bold" text-anchor="end">80</text>
<text x="0" y="0" font-family="'Liberation Serif', serif" font-size="13.1" font-weight="bold" text-anchor="middle" transform="translate(11.63,753.8) rotate(-90)">%Specific killing</text>
<line x1="60" y1="829.3" x2="60" y2="832.8" stroke="#000" stroke-width="1.45"/>
<line x1="85.5" y1="829.3" x2="85.5" y2="832.8" stroke="#000" stroke-width="1.45"/>
<line x1="111" y1="829.3" x2="111" y2="832.8" stroke="#000" stroke-width="1.45"/>
<line x1="136.5" y1="829.3" x2="136.5" y2="832.8" stroke="#000" stroke-width="1.45"/>
<line x1="162" y1="829.3" x2="162" y2="832.8" stroke="#000" stroke-width="1.45"/>
<line x1="187.5" y1="829.3" x2="187.5" y2="832.8" stroke="#000" stroke-width="1.45"/>
<text x="0" y="0" font-family="'Liberation Serif', serif" font-size="10.5" font-weight="bold" text-anchor="end" transform="translate(63.15,835.6) rotate(-90) scale(1.0,1)">25</text>
<text x="0" y="0" font-family="'Liberation Serif', serif" font-size="10.5" font-weight="bold" text-anchor="end" transform="translate(88.65,835.6) rotate(-90) scale(1.0,1)">12</text>
<text x="0" y="0" font-family="'Liberation Serif', serif" font-size="10.5" font-weight="bold" text-anchor="end" transform="translate(114.15,835.6) rotate(-90) scale(1.0,1)">6</text>
<text x="0" y="0" font-family="'Liberation Serif', serif" font-size="10.5" font-weight="bold" text-anchor="end" transform="translate(139.65,835.6) rotate(-90) scale(1.0,1)">3</text>
<text x="0" y="0" font-family="'Liberation Serif', serif" font-size="10.5" font-weight="bold" text-anchor="end" transform="translate(165.15,835.6) rotate(-90) scale(1.0,1)">1.5</text>
<text x="0" y="0" font-family="'Liberation Serif', serif" font-size="10.5" font-weight="bold" text-anchor="end" transform="translate(190.65,835.6) rotate(-90) scale(1.0,1)">0.75</text>
<polyline points="60,806.8 85.5,810.3 111,818 136.5,812.7 162,818 187.5,816" fill="none" stroke="#000" stroke-width="1.45" stroke-linejoin="round"/>
<rect x="55.7" y="802.5" width="8.6" height="8.6" fill="#000" stroke="#000" stroke-width="1.45"/>
<rect x="81.2" y="806" width="8.6" height="8.6" fill="#000" stroke="#000" stroke-width="1.45"/>
<rect x="106.7" y="813.7" width="8.6" height="8.6" fill="#000" stroke="#000" stroke-width="1.45"/>
<rect x="132.2" y="808.4" width="8.6" height="8.6" fill="#000" stroke="#000" stroke-width="1.45"/>
<rect x="157.7" y="813.7" width="8.6" height="8.6" fill="#000" stroke="#000" stroke-width="1.45"/>
<rect x="183.2" y="811.7" width="8.6" height="8.6" fill="#000" stroke="#000" stroke-width="1.45"/>
<polyline points="60,679.5 85.5,716 111,742.8 136.5,768.4 162,787.4 187.5,801.3" fill="none" stroke="#000" stroke-width="1.45" stroke-linejoin="round"/>
<rect x="55.7" y="675.2" width="8.6" height="8.6" fill="#fff" stroke="#000" stroke-width="1.45"/>
<rect x="81.2" y="711.7" width="8.6" height="8.6" fill="#fff" stroke="#000" stroke-width="1.45"/>
<rect x="106.7" y="738.5" width="8.6" height="8.6" fill="#fff" stroke="#000" stroke-width="1.45"/>
<rect x="132.2" y="764.1" width="8.6" height="8.6" fill="#fff" stroke="#000" stroke-width="1.45"/>
<rect x="157.7" y="783.1" width="8.6" height="8.6" fill="#fff" stroke="#000" stroke-width="1.45"/>
<rect x="183.2" y="797" width="8.6" height="8.6" fill="#fff" stroke="#000" stroke-width="1.45"/>
<line x1="82" y1="673.8" x2="113.5" y2="673.8" stroke="#000" stroke-width="1.45"/>
<rect x="93.75" y="669.55" width="8.5" height="8.5" fill="#fff" stroke="#000" stroke-width="1.45"/>
<text x="124.6" y="677.87" font-family="'Liberation Serif', serif" font-size="11.1" font-weight="bold" text-anchor="start">C1R-A2+WT235</text>
<line x1="82" y1="695.3" x2="113.5" y2="695.3" stroke="#000" stroke-width="1.45"/>
<rect x="93.75" y="691.05" width="8.5" height="8.5" fill="#000" stroke="#000" stroke-width="1.45"/>
<text x="124.6" y="699.37" font-family="'Liberation Serif', serif" font-size="11.1" font-weight="bold" text-anchor="start">C1R-A2</text>
<text x="0" y="0" font-family="'Liberation Sans', sans-serif" font-size="24.2" font-weight="bold" transform="translate(218.1,657.4) scale(1.07,1)">H</text>
<line x1="224.7" y1="667.3" x2="224.7" y2="829.8" stroke="#000" stroke-width="1.45"/>
<line x1="224.1" y1="829.2" x2="385.2" y2="829.2" stroke="#000" stroke-width="1.45"/>
<line x1="220.7" y1="819.3" x2="224.7" y2="819.3" stroke="#000" stroke-width="1.45"/>
<line x1="220.7" y1="781.62" x2="224.7" y2="781.62" stroke="#000" stroke-width="1.45"/>
<line x1="220.7" y1="743.94" x2="224.7" y2="743.94" stroke="#000" stroke-width="1.45"/>
<line x1="220.7" y1="706.26" x2="224.7" y2="706.26" stroke="#000" stroke-width="1.45"/>
<line x1="220.7" y1="668.58" x2="224.7" y2="668.58" stroke="#000" stroke-width="1.45"/>
<line x1="237.4" y1="829.2" x2="237.4" y2="832.7" stroke="#000" stroke-width="1.45"/>
<line x1="264.5" y1="829.2" x2="264.5" y2="832.7" stroke="#000" stroke-width="1.45"/>
<line x1="291.6" y1="829.2" x2="291.6" y2="832.7" stroke="#000" stroke-width="1.45"/>
<line x1="318.7" y1="829.2" x2="318.7" y2="832.7" stroke="#000" stroke-width="1.45"/>
<line x1="345.8" y1="829.2" x2="345.8" y2="832.7" stroke="#000" stroke-width="1.45"/>
<line x1="372.9" y1="829.2" x2="372.9" y2="832.7" stroke="#000" stroke-width="1.45"/>
<text x="0" y="0" font-family="'Liberation Serif', serif" font-size="10.5" font-weight="bold" text-anchor="end" transform="translate(240.55,835.8) rotate(-90) scale(1.0,1)">25</text>
<text x="0" y="0" font-family="'Liberation Serif', serif" font-size="10.5" font-weight="bold" text-anchor="end" transform="translate(267.65,835.8) rotate(-90) scale(1.0,1)">12</text>
<text x="0" y="0" font-family="'Liberation Serif', serif" font-size="10.5" font-weight="bold" text-anchor="end" transform="translate(294.75,835.8) rotate(-90) scale(1.0,1)">6</text>
<text x="0" y="0" font-family="'Liberation Serif', serif" font-size="10.5" font-weight="bold" text-anchor="end" transform="translate(321.85,835.8) rotate(-90) scale(1.0,1)">3</text>
<text x="0" y="0" font-family="'Liberation Serif', serif" font-size="10.5" font-weight="bold" text-anchor="end" transform="translate(348.95,835.8) rotate(-90) scale(1.0,1)">1.5</text>
<text x="0" y="0" font-family="'Liberation Serif', serif" font-size="10.5" font-weight="bold" text-anchor="end" transform="translate(376.05,835.8) rotate(-90) scale(1.0,1)">0.75</text>
<polyline points="237.4,823 264.5,822.3 291.6,823 318.7,823.2 345.8,822.5 372.9,821.8" fill="none" stroke="#000" stroke-width="1.45" stroke-linejoin="round"/>
<path d="M237.4 827.6L241.91 818.9L232.89 818.9Z" fill="#000" stroke="#000" stroke-width="1.45"/>
<path d="M264.5 826.9L269.01 818.2L259.99 818.2Z" fill="#000" stroke="#000" stroke-width="1.45"/>
<path d="M291.6 827.6L296.11 818.9L287.09 818.9Z" fill="#000" stroke="#000" stroke-width="1.45"/>
<path d="M318.7 827.8L323.21 819.1L314.19 819.1Z" fill="#000" stroke="#000" stroke-width="1.45"/>
<path d="M345.8 827.1L350.31 818.4L341.29 818.4Z" fill="#000" stroke="#000" stroke-width="1.45"/>
<path d="M372.9 826.4L377.41 817.7L368.39 817.7Z" fill="#000" stroke="#000" stroke-width="1.45"/>
<polyline points="237.4,823.6 264.5,823 291.6,823.6 318.7,823.8 345.8,823 372.9,822.3" fill="none" stroke="#000" stroke-width="1.45" stroke-linejoin="round"/>
<circle cx="237.4" cy="823.6" r="4.1" fill="#000" stroke="#000" stroke-width="1.45"/>
<circle cx="264.5" cy="823" r="4.1" fill="#000" stroke="#000" stroke-width="1.45"/>
<circle cx="291.6" cy="823.6" r="4.1" fill="#000" stroke="#000" stroke-width="1.45"/>
<circle cx="318.7" cy="823.8" r="4.1" fill="#000" stroke="#000" stroke-width="1.45"/>
<circle cx="345.8" cy="823" r="4.1" fill="#000" stroke="#000" stroke-width="1.45"/>
<circle cx="372.9" cy="822.3" r="4.1" fill="#000" stroke="#000" stroke-width="1.45"/>
<polyline points="237.4,776.2 264.5,799.6 291.6,812.7 318.7,813.7 345.8,818.5 372.9,817.7" fill="none" stroke="#000" stroke-width="1.45" stroke-linejoin="round"/>
<rect x="233.15" y="771.95" width="8.5" height="8.5" fill="#fff" stroke="#000" stroke-width="1.45"/>
<rect x="260.25" y="795.35" width="8.5" height="8.5" fill="#fff" stroke="#000" stroke-width="1.45"/>
<rect x="287.35" y="808.45" width="8.5" height="8.5" fill="#fff" stroke="#000" stroke-width="1.45"/>
<rect x="314.45" y="809.45" width="8.5" height="8.5" fill="#fff" stroke="#000" stroke-width="1.45"/>
<rect x="341.55" y="814.25" width="8.5" height="8.5" fill="#fff" stroke="#000" stroke-width="1.45"/>
<rect x="368.65" y="813.45" width="8.5" height="8.5" fill="#fff" stroke="#000" stroke-width="1.45"/>
<polyline points="237.4,763.7 264.5,793.5 291.6,808.8 318.7,808.8 345.8,815.4 372.9,813.5" fill="none" stroke="#000" stroke-width="1.45" stroke-linejoin="round"/>
<path d="M237.4 759.2L241.8 767.7L233 767.7Z" fill="#fff" stroke="#000" stroke-width="1.45" stroke-linejoin="miter"/>
<path d="M264.5 789L268.9 797.5L260.1 797.5Z" fill="#fff" stroke="#000" stroke-width="1.45" stroke-linejoin="miter"/>
<path d="M291.6 804.3L296 812.8L287.2 812.8Z" fill="#fff" stroke="#000" stroke-width="1.45" stroke-linejoin="miter"/>
<path d="M318.7 804.3L323.1 812.8L314.3 812.8Z" fill="#fff" stroke="#000" stroke-width="1.45" stroke-linejoin="miter"/>
<path d="M345.8 810.9L350.2 819.4L341.4 819.4Z" fill="#fff" stroke="#000" stroke-width="1.45" stroke-linejoin="miter"/>
<path d="M372.9 809L377.3 817.5L368.5 817.5Z" fill="#fff" stroke="#000" stroke-width="1.45" stroke-linejoin="miter"/>
<polyline points="237.4,745 264.5,772.7 291.6,790.6 318.7,797.7 345.8,803 372.9,802" fill="none" stroke="#000" stroke-width="1.45" stroke-linejoin="round"/>
<path d="M237.4 740.5L241.8 749L233 749Z" fill="#fff" stroke="#000" stroke-width="1.45" stroke-linejoin="miter"/>
<path d="M264.5 768.2L268.9 776.7L260.1 776.7Z" fill="#fff" stroke="#000" stroke-width="1.45" stroke-linejoin="miter"/>
<path d="M291.6 786.1L296 794.6L287.2 794.6Z" fill="#fff" stroke="#000" stroke-width="1.45" stroke-linejoin="miter"/>
<path d="M318.7 793.2L323.1 801.7L314.3 801.7Z" fill="#fff" stroke="#000" stroke-width="1.45" stroke-linejoin="miter"/>
<path d="M345.8 798.5L350.2 807L341.4 807Z" fill="#fff" stroke="#000" stroke-width="1.45" stroke-linejoin="miter"/>
<path d="M372.9 797.5L377.3 806L368.5 806Z" fill="#fff" stroke="#000" stroke-width="1.45" stroke-linejoin="miter"/>
<line x1="288.9" y1="672.9" x2="320.9" y2="672.9" stroke="#000" stroke-width="1.45"/>
<circle cx="304.8" cy="672.9" r="4" fill="#000" stroke="#000" stroke-width="1.45"/>
<text x="329.8" y="677.08" font-family="'Liberation Serif', serif" font-size="11.4" font-weight="bold" text-anchor="start">Normal CD34+</text>
<line x1="288.9" y1="694.5" x2="320.9" y2="694.5" stroke="#000" stroke-width="1.45"/>
<path d="M304.8 690L309.2 698.5L300.4 698.5Z" fill="#fff" stroke="#000" stroke-width="1.45" stroke-linejoin="miter"/>
<text x="329.8" y="698.68" font-family="'Liberation Serif', serif" font-size="11.4" font-weight="bold" text-anchor="start">CML No.1</text>
<line x1="288.9" y1="715.7" x2="320.9" y2="715.7" stroke="#000" stroke-width="1.45"/>
<path d="M304.8 720.2L309.2 711.7L300.4 711.7Z" fill="#000" stroke="#000" stroke-width="1.45"/>
<text x="329.8" y="719.88" font-family="'Liberation Serif', serif" font-size="11.4" font-weight="bold" text-anchor="start">CML No.2</text>
<line x1="288.9" y1="736.7" x2="320.9" y2="736.7" stroke="#000" stroke-width="1.45"/>
<rect x="300.8" y="732.7" width="8" height="8" fill="#fff" stroke="#000" stroke-width="1.45"/>
<text x="329.8" y="740.88" font-family="'Liberation Serif', serif" font-size="11.4" font-weight="bold" text-anchor="start">CML No.3</text>
<line x1="288.9" y1="757.5" x2="320.9" y2="757.5" stroke="#000" stroke-width="1.45"/>
<path d="M304.8 753L309.2 761.5L300.4 761.5Z" fill="#fff" stroke="#000" stroke-width="1.45" stroke-linejoin="miter"/>
<text x="329.8" y="761.68" font-family="'Liberation Serif', serif" font-size="11.4" font-weight="bold" text-anchor="start">CML No.4</text>
<text x="225" y="878.8" font-family="'Liberation Serif', serif" font-size="17" font-weight="bold" text-anchor="middle">E/T</text>
</svg>
</body></html>
